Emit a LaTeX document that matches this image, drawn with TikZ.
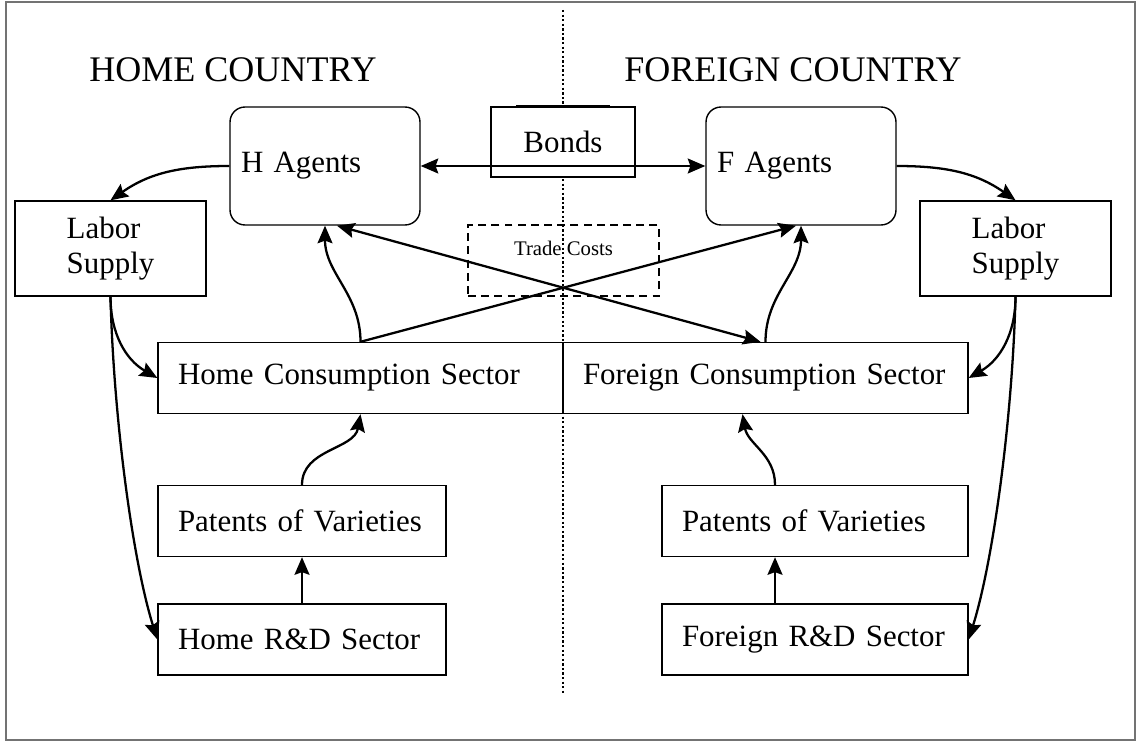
\documentclass[tikz,border=0pt]{standalone}
\usepackage{fontspec}
\setmainfont{Liberation Serif}
\usetikzlibrary{arrows.meta}

\begin{document}
\begin{tikzpicture}[x=0.02cm,y=-0.02cm,
  >={Stealth[length=10pt,width=8.5pt,inset=1.5pt]},
  every node/.style={font=\fontsize{17.6pt}{20pt}\selectfont},
  title/.style={font=\fontsize{20.5pt}{22pt}\selectfont},
  box/.style={draw,line width=0.8pt,fill=white,inner xsep=0.4cm,inner ysep=0pt,align=left,minimum height=1.42cm},
  agent/.style={draw,line width=0.8pt,fill=white,rounded corners=0.3cm,inner xsep=0.22cm,align=left,text width=3.36cm,minimum height=2.36cm},
  flow/.style={->,line width=1.3pt}]
\useasboundingbox (0,0) rectangle (1141,743);
\draw [black!55,line width=0.6pt] (6,2) rectangle (1135,740);
\draw [dash pattern=on 1.3pt off 1.3pt,line width=1.1pt] (563,10) -- (563,695);
\node [title] (home) at (233,70) {HOME COUNTRY};
\node [title] (foreign) at (793,70) {FOREIGN COUNTRY};
\node [agent] (hag) at (325,166) {H Agents};
\node [agent] (fag) at (801,166) {F Agents};
\node [box,align=center,inner xsep=0pt,minimum width=2.88cm,minimum height=1.4cm] (bonds) at (563,142) {Bonds};
\draw ([xshift=-0.94cm,yshift=0.025cm]bonds.north) -- ([xshift=0.94cm,yshift=0.025cm]bonds.north);
\node [draw,dash pattern=on 4.5pt off 3pt,line width=1.2pt,inner sep=0pt,minimum width=3.82cm,text height=0.6cm,text depth=0.82cm,font=\fontsize{11.8pt}{14pt}\selectfont] (trade) at (563.5,260.5) {Trade Costs};
\node [box,inner xsep=0pt,minimum width=3.82cm,minimum height=1.9cm] (labL) at (110.5,248.5) {Labor\\Supply};
\node [box,inner xsep=0pt,minimum width=3.82cm,minimum height=1.9cm] (labR) at (1015.5,248.5) {Labor\\Supply};
\node [box,text width=7.3cm] (hcons) at (360.5,378) {Home Consumption Sector};
\node [box,text width=7.3cm] (fcons) at (765.5,378) {Foreign Consumption Sector};
\node [box,text width=4.96cm] (hpat) at (302,521) {Patents of Varieties};
\node [box,text width=4.96cm] (hrd) at (302,639.5) {Home R\&D Sector};
\node [box,text width=5.32cm] (fpat) at (815,521) {Patents of Varieties};
\node [box,text width=5.32cm] (frd) at (815,639.5) {Foreign R\&D Sector};
\draw [flow,<->] (hag.east) -- (fag.west);
\draw [flow] (hag.west) to[out=180,in=35] (labL.north);
\draw [flow] (fag.east) to[out=0,in=145] (labR.north);
\draw [flow] (labL.south) to[out=-90,in=150] (hcons.west);
\draw [flow] (labL.south) .. controls +(3,120) and +(-25,-80) .. (hrd.west);
\draw [flow] (labR.south) to[out=-90,in=30] (fcons.east);
\draw [flow] (labR.south) .. controls +(-3,120) and +(25,-80) .. (frd.east);
\draw [flow] (hcons.north) to[out=90,in=-90] (hag.south);
\draw [flow] (hcons.north) -- ([xshift=-0.1cm]fag.south);
\draw [flow] (fcons.north) to[out=90,in=-90] (fag.south);
\draw [flow,<->] ([xshift=0.24cm]hag.south) -- ([xshift=-0.1cm]fcons.north);
\draw [flow] (hpat.north) to[out=90,in=-100] (hcons.south);
\draw [flow] (hrd.north) -- (hpat.south);
\draw [flow] ([xshift=-0.8cm]fpat.north) to[out=90,in=-80] ([xshift=-0.46cm]fcons.south);
\draw [flow] ([xshift=-0.8cm]frd.north) -- ([xshift=-0.8cm]fpat.south);
\end{tikzpicture}
\end{document}
